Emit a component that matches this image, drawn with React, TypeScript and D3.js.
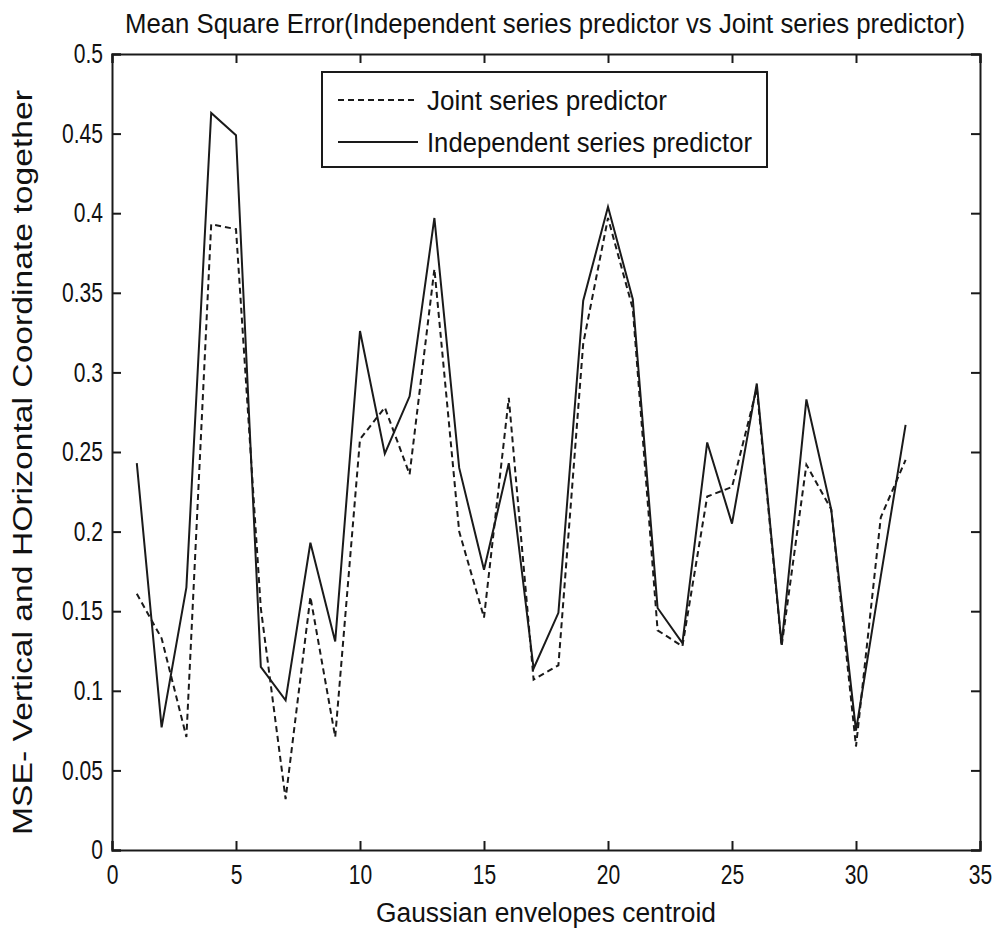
import * as d3 from "d3";
import { useEffect, useRef } from "react";

// x positions (gaussian envelope centroid index)
const centroids = d3.range(1, 33);

// independent series predictor (solid)
const independentMSE = [
  0.243, 0.077, 0.165, 0.463, 0.449, 0.115, 0.094, 0.193, 0.131, 0.326,
  0.249, 0.285, 0.397, 0.24, 0.176, 0.243, 0.114, 0.149, 0.345, 0.404,
  0.346, 0.152, 0.13, 0.256, 0.205, 0.293, 0.129, 0.283, 0.214, 0.075,
  0.172, 0.267,
];

// joint series predictor (dashed)
const jointMSE = [
  0.161, 0.133, 0.071, 0.393, 0.39, 0.152, 0.032, 0.159, 0.071, 0.258,
  0.278, 0.236, 0.365, 0.2, 0.146, 0.284, 0.107, 0.116, 0.318, 0.397,
  0.34, 0.138, 0.128, 0.222, 0.228, 0.29, 0.128, 0.242, 0.214, 0.065,
  0.209, 0.245,
];

const xTicks = [0, 5, 10, 15, 20, 25, 30, 35];
const yTicks = [0, 0.05, 0.1, 0.15, 0.2, 0.25, 0.3, 0.35, 0.4, 0.45, 0.5];

const chartTitle =
  "Mean Square Error(Independent series predictor vs Joint series predictor)";
const xTitle = "Gaussian envelopes centroid";
const yTitle = "MSE- Vertical and HOrizontal Coordinate together";
const legendLabels = ["Joint series predictor", "Independent series predictor"];

const App = () => {
  const ref = useRef<SVGSVGElement | null>(null);

  const chartWidth = 995;
  const chartHeight = 936;
  const margin = { top: 54, right: 15, bottom: 86, left: 112 };
  const width = chartWidth - margin.left - margin.right;
  const height = chartHeight - margin.top - margin.bottom;
  const font = "'Liberation Sans', Arial, sans-serif";
  const ink = "#1a1a1a";
  const fs = 27;

  useEffect(() => {
    const svg = d3.select(ref.current);
    svg.selectAll("*").remove();

    const xScale = d3.scaleLinear().domain([0, 35]).range([0, width]);
    const yScale = d3.scaleLinear().domain([0, 0.5]).range([height, 0]);

    const g = svg
      .append("g")
      .attr("transform", "translate(" + margin.left + "," + margin.top + ")");

    // lines
    const line = d3
      .line<number>()
      .x((d, i) => xScale(centroids[i]))
      .y((d) => yScale(d));

    g.append("path")
      .datum(jointMSE)
      .attr("d", line)
      .attr("fill", "none")
      .attr("stroke", ink)
      .attr("stroke-width", 2)
      .attr("stroke-dasharray", "6,4");

    g.append("path")
      .datum(independentMSE)
      .attr("d", line)
      .attr("fill", "none")
      .attr("stroke", ink)
      .attr("stroke-width", 2);

    // axes, ticks pointing inward on all four sides
    const tickLen = 9;
    const bottom = g
      .append("g")
      .attr("transform", "translate(0," + height + ")")
      .call(d3.axisBottom(xScale).tickValues(xTicks).tickSize(-tickLen).tickPadding(34).tickFormat(d3.format("d")));
    const top = g
      .append("g")
      .call(d3.axisTop(xScale).tickValues(xTicks).tickSize(-tickLen).tickFormat(() => ""));
    const left = g
      .append("g")
      .call(d3.axisLeft(yScale).tickValues(yTicks).tickSize(-tickLen).tickPadding(9).tickFormat((d) => d3.format("")(+d)));
    const right = g
      .append("g")
      .attr("transform", "translate(" + width + ",0)")
      .call(d3.axisRight(yScale).tickValues(yTicks).tickSize(-tickLen).tickFormat(() => ""));

    [bottom, top, left, right].forEach((ax) => {
      ax.select(".domain").attr("stroke", ink).attr("stroke-width", 2);
      ax.selectAll(".tick line").attr("stroke", ink).attr("stroke-width", 2);
    });

    // squeeze tick labels horizontally like the narrow font in the picture
    bottom
      .selectAll(".tick text")
      .attr("font-family", font)
      .attr("font-size", fs)
      .attr("fill", "#111")
      .attr("dy", "0")
      .attr("transform", "scale(0.78,1)");
    left
      .selectAll(".tick text")
      .attr("font-family", font)
      .attr("font-size", fs)
      .attr("fill", "#111")
      .attr("transform", function () {
        const x = +d3.select(this).attr("x");
        return "translate(" + x + ",0) scale(0.78,1) translate(" + -x + ",0)";
      });

    // title
    svg.append("text")
      .attr("x", 125)
      .attr("y", 33)
      .attr("font-family", font)
      .attr("font-size", fs)
      .attr("fill", "#111")
      .attr("textLength", 840)
      .attr("lengthAdjust", "spacingAndGlyphs")
      .text(chartTitle);

    // x label
    svg.append("text")
      .attr("x", 376)
      .attr("y", 922)
      .attr("font-family", font)
      .attr("font-size", fs)
      .attr("fill", "#111")
      .attr("textLength", 340)
      .attr("lengthAdjust", "spacingAndGlyphs")
      .text(xTitle);

    // y label
    svg.append("text")
      .attr("transform", "translate(32,835) rotate(-90)")
      .attr("font-family", font)
      .attr("font-size", fs)
      .attr("fill", "#111")
      .attr("textLength", 745)
      .attr("lengthAdjust", "spacingAndGlyphs")
      .text(yTitle);

    // legend
    const legend = svg.append("g").attr("transform", "translate(322,72)");
    legend.append("rect")
      .attr("width", 445)
      .attr("height", 95)
      .attr("fill", "white")
      .attr("stroke", ink)
      .attr("stroke-width", 2);
    const dashes = ["6,4", null];
    const textLengths = [240, 325];
    legendLabels.forEach((label, i) => {
      const cy = 28 + i * 42;
      legend.append("line")
        .attr("x1", 16)
        .attr("x2", 96)
        .attr("y1", cy)
        .attr("y2", cy)
        .attr("stroke", ink)
        .attr("stroke-width", 2)
        .attr("stroke-dasharray", dashes[i]);
      legend.append("text")
        .attr("x", 105)
        .attr("y", cy + 10)
        .attr("font-family", font)
        .attr("font-size", fs)
        .attr("fill", "#111")
        .attr("textLength", textLengths[i])
        .attr("lengthAdjust", "spacingAndGlyphs")
        .text(label);
    });
  }, []);

  return (
    <svg
      ref={ref}
      width={chartWidth}
      height={chartHeight}
      style={{ position: "absolute", left: 0, top: 0, background: "white" }}
    />
  );
};

export default App;
